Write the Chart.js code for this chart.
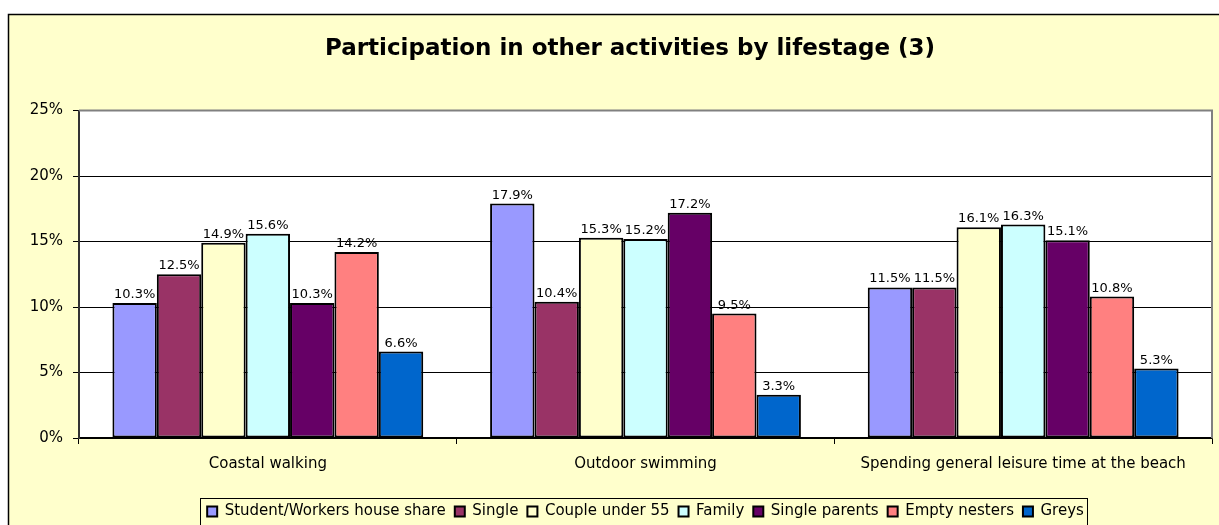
<!DOCTYPE html>
<html>
<head>
<meta charset="utf-8">
<script src="https://cdn.jsdelivr.net/npm/chart.js@4.4.0/dist/chart.umd.min.js"></script>
<style>
  html, body { margin: 0; padding: 0; background: #fff; overflow: hidden; }
  #wrap { position: absolute; left: 0; top: 0; width: 1219px; height: 525px; }
</style>
</head>
<body>
<div id="wrap"><canvas id="myChart" width="1219" height="525"></canvas></div>
<script>
var activities = ['Coastal walking', 'Outdoor swimming', 'Spending general leisure time at the beach'];
// one array per lifestage, values in %
var studentShare = [10.3, 17.9, 11.5];
var single = [12.5, 10.4, 11.5];
var coupleUnder55 = [14.9, 15.3, 16.1];
var family = [15.6, 15.2, 16.3];
var singleParents = [10.3, 17.2, 15.1];
var emptyNesters = [14.2, 9.5, 10.8];
var greys = [6.6, 3.3, 5.3];
var yMax = 25, yStep = 5;

var series = [
  { label: 'Student/Workers house share', data: studentShare, color: '#9999FF' },
  { label: 'Single', data: single, color: '#993366' },
  { label: 'Couple under 55', data: coupleUnder55, color: '#FFFFCC' },
  { label: 'Family', data: family, color: '#CCFFFF' },
  { label: 'Single parents', data: singleParents, color: '#660066' },
  { label: 'Empty nesters', data: emptyNesters, color: '#FF8080' },
  { label: 'Greys', data: greys, color: '#0066CC' }
];

var FONT = "'DejaVu Sans', Verdana, sans-serif";

// yellow frame + white plot area
var framePlugin = {
  id: 'frame',
  afterLayout: function(chart) {
    // title is centred a bit right of the canvas middle in the original
    chart.titleBlock.left = 48;
  },
  beforeDraw: function(chart) {
    var c = chart.ctx, a = chart.chartArea;
    c.save();
    c.fillStyle = '#FFFFCC';
    c.fillRect(8, 14, chart.width, chart.height);
    c.strokeStyle = '#000';
    c.lineWidth = 1.5;
    c.beginPath();
    c.moveTo(8.5, chart.height);
    c.lineTo(8.5, 14.5);
    c.lineTo(chart.width, 14.5);
    c.stroke();
    c.fillStyle = '#fff';
    c.fillRect(a.left, a.top, a.right - a.left, a.bottom - a.top);
    c.restore();
  },
  afterDraw: function(chart) {
    var c = chart.ctx, a = chart.chartArea;
    c.save();
    c.strokeStyle = '#808080';
    c.lineWidth = 2;
    c.beginPath();
    c.moveTo(a.left, a.top);
    c.lineTo(a.right, a.top);
    c.lineTo(a.right, a.bottom);
    c.stroke();
    // legend box
    var boxes = chart.legend.legendHitBoxes;
    if (boxes && boxes.length) {
      var l = Infinity, r = -Infinity, t = Infinity, b = -Infinity;
      boxes.forEach(function(h) {
        l = Math.min(l, h.left); r = Math.max(r, h.left + h.width);
        t = Math.min(t, h.top); b = Math.max(b, h.top + h.height);
      });
      var cy = (t + b) / 2;
      c.strokeStyle = '#000';
      c.lineWidth = 1;
      c.strokeRect(Math.round(l - 7) + 0.5, Math.round(cy - 14) + 0.5, Math.round(r - l + 10), 30);
    }
    c.restore();
  }
};

var valueLabels = {
  id: 'valueLabels',
  afterDatasetsDraw: function(chart) {
    var c = chart.ctx;
    c.save();
    c.font = '13px ' + FONT;
    c.fillStyle = '#000';
    c.textAlign = 'center';
    c.textBaseline = 'alphabetic';
    chart.data.datasets.forEach(function(ds, i) {
      chart.getDatasetMeta(i).data.forEach(function(bar, j) {
        c.fillText(ds.data[j].toFixed(1) + '%', bar.x, bar.y - 5);
      });
    });
    c.restore();
  }
};

window.onload = function() {
  var ctx = document.getElementById('myChart');
  new Chart(ctx, {
    type: 'bar',
    data: {
      labels: activities,
      datasets: series.map(function(s) {
        return {
          label: s.label,
          data: s.data,
          backgroundColor: s.color,
          borderColor: '#000',
          borderWidth: 2,
          borderSkipped: false,
          categoryPercentage: 0.823,
          barPercentage: 1
        };
      })
    },
    options: {
      responsive: false,
      animation: false,
      layout: { padding: { left: 8, right: 7, top: 0, bottom: -4 } },
      plugins: {
        title: {
          display: true,
          text: 'Participation in other activities by lifestage (3)',
          color: '#000',
          font: { family: FONT, size: 23, weight: 'bold' },
          padding: { top: 35, bottom: 48 }
        },
        legend: {
          position: 'bottom',
          fullSize: false,
          labels: {
            color: '#000',
            font: { family: FONT, size: 15 },
            boxWidth: 10,
            boxHeight: 10,
            padding: 9
          }
        },
        tooltip: { enabled: false }
      },
      scales: {
        x: {
          grid: { display: true, drawOnChartArea: false, offset: true, color: '#000', tickLength: 6 },
          border: { color: '#000', width: 1.5 },
          ticks: { color: '#000', font: { family: FONT, size: 15 }, padding: 11, maxRotation: 0 },
          afterFit: function(s) { s.height = 57; }
        },
        y: {
          min: 0,
          max: yMax,
          grid: { color: '#000', tickLength: 6 },
          border: { color: '#333', width: 2 },
          ticks: {
            stepSize: yStep,
            color: '#000',
            font: { family: FONT, size: 15 },
            padding: 10,
            callback: function(v) { return v + '%'; }
          },
          afterFit: function(s) { s.width = 71; }
        }
      }
    },
    plugins: [framePlugin, valueLabels]
  });
};
</script>
</body>
</html>
